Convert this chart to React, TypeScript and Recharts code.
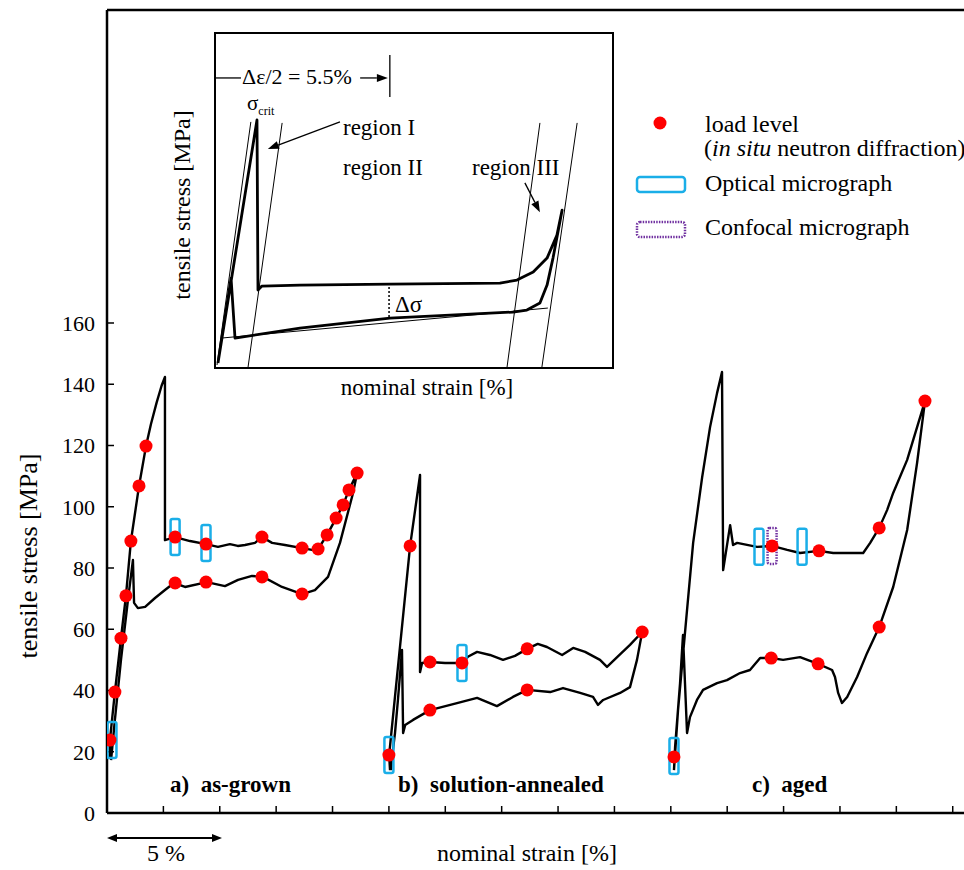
import React from 'react';
import { ComposedChart, Line, Scatter, XAxis, YAxis, ReferenceLine } from 'recharts';

// ---------- main chart data (strain %, stress MPa) ----------
const curveAsGrown: number[][] = [
  [0.13, 18.0], [0.13, 23.8], [0.35, 39.5], [0.62, 57.1], [0.84, 70.9], [1.06, 88.8], [1.42, 106.8], [1.73, 119.8],
  [1.95, 127.0], [2.2, 134.0], [2.42, 139.5], [2.57, 142.4], [2.57, 89.1], [3.02, 90.1], [3.68, 88.8], [4.39, 87.8], [4.92, 86.9], [5.45, 87.8],
  [5.8, 87.2], [6.12, 87.5], [6.56, 88.2], [6.87, 90.1], [7.32, 88.2], [7.89, 87.5], [8.65, 86.5], [9.09, 85.9],
  [9.36, 86.2], [9.76, 90.8], [10.16, 96.3], [10.47, 100.6], [10.73, 105.5], [11.09, 111.0],
  [10.91, 104.5], [10.33, 88.2], [9.8, 77.1], [9.22, 72.8], [8.65, 71.5], [7.76, 73.8], [6.92, 77.1], [6.43, 77.4],
  [5.81, 76.1], [5.23, 74.1], [4.43, 75.4], [3.46, 73.8], [2.97, 75.1], [2.57, 72.8], [2.13, 70.2], [1.69, 67.3],
  [1.37, 66.9], [1.2, 68.6], [1.15, 82.6], [0.93, 69.6], [0.62, 50.0], [0.35, 30.4], [0.18, 17.3],
];
const curveSolutionAnnealed: number[][] = [
  [12.55, 14.0], [12.51, 18.9], [13.44, 87.2], [13.88, 110.4], [13.88, 46.0], [13.97, 49.0], [14.32, 49.3],
  [14.99, 49.0], [15.74, 49.0], [16.0, 51.0], [16.41, 52.6], [16.98, 51.6], [17.56, 50.0], [18.09, 51.3],
  [18.63, 53.6], [19.1, 55.2], [19.51, 54.2], [20.18, 51.6], [20.67, 53.9], [21.2, 52.6], [21.86, 50.0],
  [22.17, 47.7], [22.62, 50.9], [23.19, 54.9], [23.73, 59.1],
  [23.5, 50.0], [23.19, 41.1], [22.75, 39.2], [22.0, 36.9], [21.77, 35.3], [21.55, 37.9], [20.98, 39.2],
  [20.22, 40.8], [19.65, 39.5], [18.63, 40.2], [18.0, 37.9], [17.29, 34.9], [16.41, 37.6], [15.52, 35.9],
  [14.32, 33.6], [13.57, 30.4], [13.22, 28.7], [13.13, 26.1], [13.08, 53.2], [12.9, 36.9], [12.77, 26.1],
  [12.64, 18.3], [12.59, 14.0],
];
const curveAged: number[][] = [
  [25.14, 14.0], [25.32, 33.6], [25.52, 50.0], [25.72, 66.3], [25.99, 88.2], [26.39, 109.7], [26.74, 126.0], [27.05, 137.1],
  [27.27, 144.0], [27.32, 79.3], [27.63, 94.0], [27.76, 87.5], [27.94, 88.2], [28.82, 86.9], [29.49, 87.2],
  [30.16, 85.9], [30.73, 84.9], [31.57, 85.6], [32.2, 84.9], [32.82, 84.9], [33.53, 84.9], [33.84, 88.2],
  [34.24, 93.1], [34.59, 98.9], [34.86, 104.5], [35.48, 115.3], [35.92, 126.0], [36.27, 134.5],
  [35.92, 114.3], [35.48, 92.4], [34.86, 73.8], [34.24, 60.7], [33.7, 52.2], [33.26, 44.4], [32.82, 37.9],
  [32.59, 35.9], [32.42, 39.2], [32.28, 44.4], [32.15, 46.7], [31.53, 48.7], [30.73, 50.9], [29.98, 50.0],
  [29.45, 50.6], [28.96, 50.6], [28.51, 46.7], [28.07, 45.7], [27.49, 43.4], [27.05, 42.4], [26.43, 40.2],
  [26.16, 36.9], [25.85, 31.3], [25.72, 26.1], [25.54, 58.1], [25.41, 42.4], [25.19, 21.6], [25.14, 14.0],
];
const loadLevels: number[][] = [
  [0.13, 23.8], [0.35, 39.5], [0.62, 57.1], [0.84, 70.9], [1.06, 88.8], [1.42, 106.8], [1.73, 119.8],
  [3.02, 90.1], [4.39, 87.8], [6.87, 90.1], [8.65, 86.5], [9.36, 86.2], [9.76, 90.8], [10.16, 96.3],
  [10.47, 100.6], [10.73, 105.5], [11.09, 111.0], [3.02, 75.1], [4.39, 75.4], [6.87, 77.1], [8.65, 71.5],
  [12.5, 18.9], [13.44, 87.2], [14.32, 49.3], [15.74, 49.0], [18.63, 53.6], [23.73, 59.1], [14.32, 33.6], [18.63, 40.2],
  [25.14, 18.3], [29.49, 87.2], [31.57, 85.6], [34.24, 93.1], [36.27, 134.5], [34.24, 60.7], [29.45, 50.6], [31.53, 48.7],
];
const opticalMicrographs: number[][] = [
  [0.22, 23.8], [3.02, 90.1], [4.39, 88.2], [12.5, 18.9], [15.74, 49.0], [25.14, 18.6], [28.91, 86.9], [30.82, 86.9],
];
const confocalMicrographs: number[][] = [[29.49, 87.2]];
const xTicks = [0, 2.5, 5, 7.5, 10, 12.5, 15, 17.5, 20, 22.5, 25, 27.5, 30, 32.5, 35, 37.5];
const yTicks = [0, 20, 40, 60, 80, 100, 120, 140, 160];

// ---------- inset schematic (arbitrary units 0-100) ----------
const insetUpperLoop: number[][] = [
  [0.5, 1.2], [10.35, 74.2], [10.6, 23.1], [11.6, 24.3], [21.2, 24.6], [43.9, 24.9], [71.7, 25.2], [76.0, 26.1],
  [80.1, 28.5], [83.6, 32.7], [86.1, 39.6], [87.4, 47.1],
  [85.1, 32.7], [83.6, 24.6], [81.8, 19.2], [78.5, 17.1], [75.0, 16.5], [43.9, 14.7], [21.2, 11.7], [4.8, 8.7],
  [3.8, 26.7], [0.5, 1.2],
];
const insetGuide1: number[][] = [[1.5, 8.7], [83.8, 17.7]];
const insetGuide2: number[][] = [[8.1, 0], [16.7, 73.3]];
const insetGuide3: number[][] = [[0.25, 0.6], [8.8, 73.6]];
const insetGuide4: number[][] = [[73.5, 0], [81.8, 73.3]];
const insetGuide5: number[][] = [[82.3, 0], [91.2, 73.3]];

const toPts = (a: number[][]) => a.map(([x, y]) => ({ x, y }));

const FONT = '"Liberation Serif", "Times New Roman", serif';

const dotShape = (p: any) => <circle cx={p.cx} cy={p.cy} r={6.5} fill="#ff0000" />;
const opticalShape = (p: any) => (
  <rect x={p.cx - 4.5} y={p.cy - 18} width={9} height={36} rx={2} fill="none" stroke="#1aaee8" strokeWidth={2.5} />
);
const confocalShape = (p: any) => (
  <rect x={p.cx - 4.5} y={p.cy - 18} width={9} height={36} rx={2} fill="none" stroke="#7030a0" strokeWidth={2.5} strokeDasharray="1.5 1.2" />
);

const arrowShape = (p: any) => {
  const { x1, y1, x2, y2 } = p;
  const ang = Math.atan2(y2 - y1, x2 - x1);
  const L = 11, W = 4;
  const bx = x2 - L * Math.cos(ang), by = y2 - L * Math.sin(ang);
  const px = -Math.sin(ang) * W, py = Math.cos(ang) * W;
  return (
    <g>
      <line x1={x1} y1={y1} x2={bx} y2={by} stroke="#000" strokeWidth={1.3} />
      <polygon points={`${x2},${y2} ${bx + px},${by + py} ${bx - px},${by - py}`} fill="#000" />
    </g>
  );
};

export default function App() {
  const series = (d: number[][], w: number, key: string) => (
    <Line key={key} data={toPts(d)} dataKey="y" type="linear" stroke="#000" strokeWidth={w} strokeLinejoin="round" dot={false} isAnimationActive={false} />
  );
  return (
    <div style={{ position: 'absolute', left: 0, top: 0, width: 964, height: 870, background: '#fff', overflow: 'hidden', fontFamily: FONT }}>
      <div style={{ position: 'absolute', left: 0, top: 0 }}>
        <ComposedChart width={964} height={870} margin={{ top: 10, right: 0, bottom: 0, left: 0 }}>
          <XAxis type="number" dataKey="x" domain={[0, 38]} ticks={xTicks} allowDataOverflow height={57} tickSize={-7}
            interval={0} tickFormatter={() => ''} axisLine={{ stroke: '#000', strokeWidth: 2.5 }} tickLine={{ stroke: '#000', strokeWidth: 1.5 }} />
          <YAxis type="number" dataKey="y" domain={[0, 262.2]} ticks={yTicks} allowDataOverflow width={107} tickSize={-7}
            tickMargin={19} interval={0} axisLine={{ stroke: '#000', strokeWidth: 2.5 }} tickLine={{ stroke: '#000', strokeWidth: 1.5 }}
            tick={{ fill: '#000', fontSize: 22, fontFamily: FONT }} />
          <ReferenceLine y={262.2} stroke="#000" strokeWidth={2.5} ifOverflow="visible" />
          {series(curveAsGrown, 2.4, 'a')}
          {series(curveSolutionAnnealed, 2.4, 'b')}
          {series(curveAged, 2.4, 'c')}
          <Scatter data={toPts(opticalMicrographs)} shape={opticalShape} isAnimationActive={false} />
          <Scatter data={toPts(confocalMicrographs)} shape={confocalShape} isAnimationActive={false} />
          <Scatter data={toPts(loadLevels)} shape={dotShape} isAnimationActive={false} />
        </ComposedChart>
      </div>

      <div style={{ position: 'absolute', left: 214, top: 32, width: 400, height: 337, border: '2px solid #000', boxSizing: 'border-box', background: '#fff' }}>
        <ComposedChart width={396} height={333} margin={{ top: 0, right: 0, bottom: 0, left: 0 }}>
          <XAxis type="number" dataKey="x" domain={[0, 100]} hide allowDataOverflow />
          <YAxis type="number" dataKey="y" domain={[0, 100]} hide allowDataOverflow />
          {series(insetGuide1, 1, 'g1')}
          {series(insetGuide2, 1, 'g2')}
          {series(insetGuide3, 1, 'g3')}
          {series(insetGuide4, 1, 'g4')}
          {series(insetGuide5, 1, 'g5')}
          {series(insetUpperLoop, 2.8, 'loop')}
          <ReferenceLine segment={[{ x: 31.3, y: 73.6 }, { x: 13.1, y: 65.5 }]} shape={arrowShape} ifOverflow="visible" />
          <ReferenceLine segment={[{ x: 78.0, y: 55.3 }, { x: 81.8, y: 46.5 }]} shape={arrowShape} ifOverflow="visible" />
          <ReferenceLine segment={[{ x: 36.4, y: 86.8 }, { x: 43.4, y: 86.8 }]} shape={arrowShape} ifOverflow="visible" />
          <ReferenceLine segment={[{ x: 0, y: 86.8 }, { x: 6.3, y: 86.8 }]} stroke="#000" strokeWidth={1.3} ifOverflow="visible" />
          <ReferenceLine segment={[{ x: 43.9, y: 93.7 }, { x: 43.9, y: 81.1 }]} stroke="#000" strokeWidth={1.3} ifOverflow="visible" />
          <ReferenceLine segment={[{ x: 43.7, y: 24.0 }, { x: 43.7, y: 14.7 }]} stroke="#000" strokeWidth={1.5} strokeDasharray="2 2" ifOverflow="visible" />
        </ComposedChart>
      </div>

      <svg width={964} height={870} style={{ position: 'absolute', left: 0, top: 0, pointerEvents: 'none' }} fontFamily={FONT}>
        {/* main axis labels */}
        <text x={37} y={556} transform="rotate(-90, 37, 556)" textAnchor="middle" fontSize={26} fill="#000">tensile stress [MPa]</text>
        <text x={527} y={861} textAnchor="middle" fontSize={24} fill="#000">nominal strain [%]</text>
        <text x={166} y={861} textAnchor="middle" fontSize={24} fill="#000">5 %</text>
        <line x1={112} y1={838} x2={217} y2={838} stroke="#000" strokeWidth={2} />
        <polygon points="107,838 117,834 117,842" fill="#000" />
        <polygon points="222,838 212,834 212,842" fill="#000" />
        <text x={170} y={792} fontSize={23} fontWeight="bold" fill="#000" xmlSpace="preserve">a)  as-grown</text>
        <text x={398} y={792} fontSize={23} fontWeight="bold" fill="#000" xmlSpace="preserve">b)  solution-annealed</text>
        <text x={752} y={792} fontSize={23} fontWeight="bold" fill="#000" xmlSpace="preserve">c)  aged</text>

        {/* legend */}
        <circle cx={660} cy={123} r={6.5} fill="#ff0000" />
        <text x={705} y={132} fontSize={24} fill="#000">load level</text>
        <text x={704} y={156} fontSize={24} fill="#000">(<tspan fontStyle="italic">in situ</tspan> neutron diffraction)</text>
        <rect x={637} y={177} width={48} height={15} rx={3} fill="none" stroke="#1aaee8" strokeWidth={2.5} />
        <text x={705} y={191} fontSize={24} fill="#000">Optical micrograph</text>
        <rect x={637} y={222} width={48} height={15} rx={3} fill="none" stroke="#7030a0" strokeWidth={2.5} strokeDasharray="1.5 1.2" />
        <text x={705} y={235} fontSize={24} fill="#000">Confocal micrograph</text>

        {/* inset texts */}
        <text x={190} y={205} transform="rotate(-90, 190, 205)" textAnchor="middle" fontSize={24} fill="#000">tensile stress [MPa]</text>
        <text x={427} y={395} textAnchor="middle" fontSize={23} fill="#000">nominal strain [%]</text>
        <text x={242} y={84} fontSize={22} fill="#000">Δε/2 = 5.5%</text>
        <text x={247} y={110} fontSize={21} fill="#000">σ<tspan fontSize={12} dy={5}>crit</tspan></text>
        <text x={343} y={135} fontSize={23} fill="#000">region I</text>
        <text x={343} y={175} fontSize={23} fill="#000">region II</text>
        <text x={472} y={175} fontSize={23} fill="#000">region III</text>
        <text x={395} y={312} fontSize={23} fill="#000">Δσ</text>
      </svg>
    </div>
  );
}
